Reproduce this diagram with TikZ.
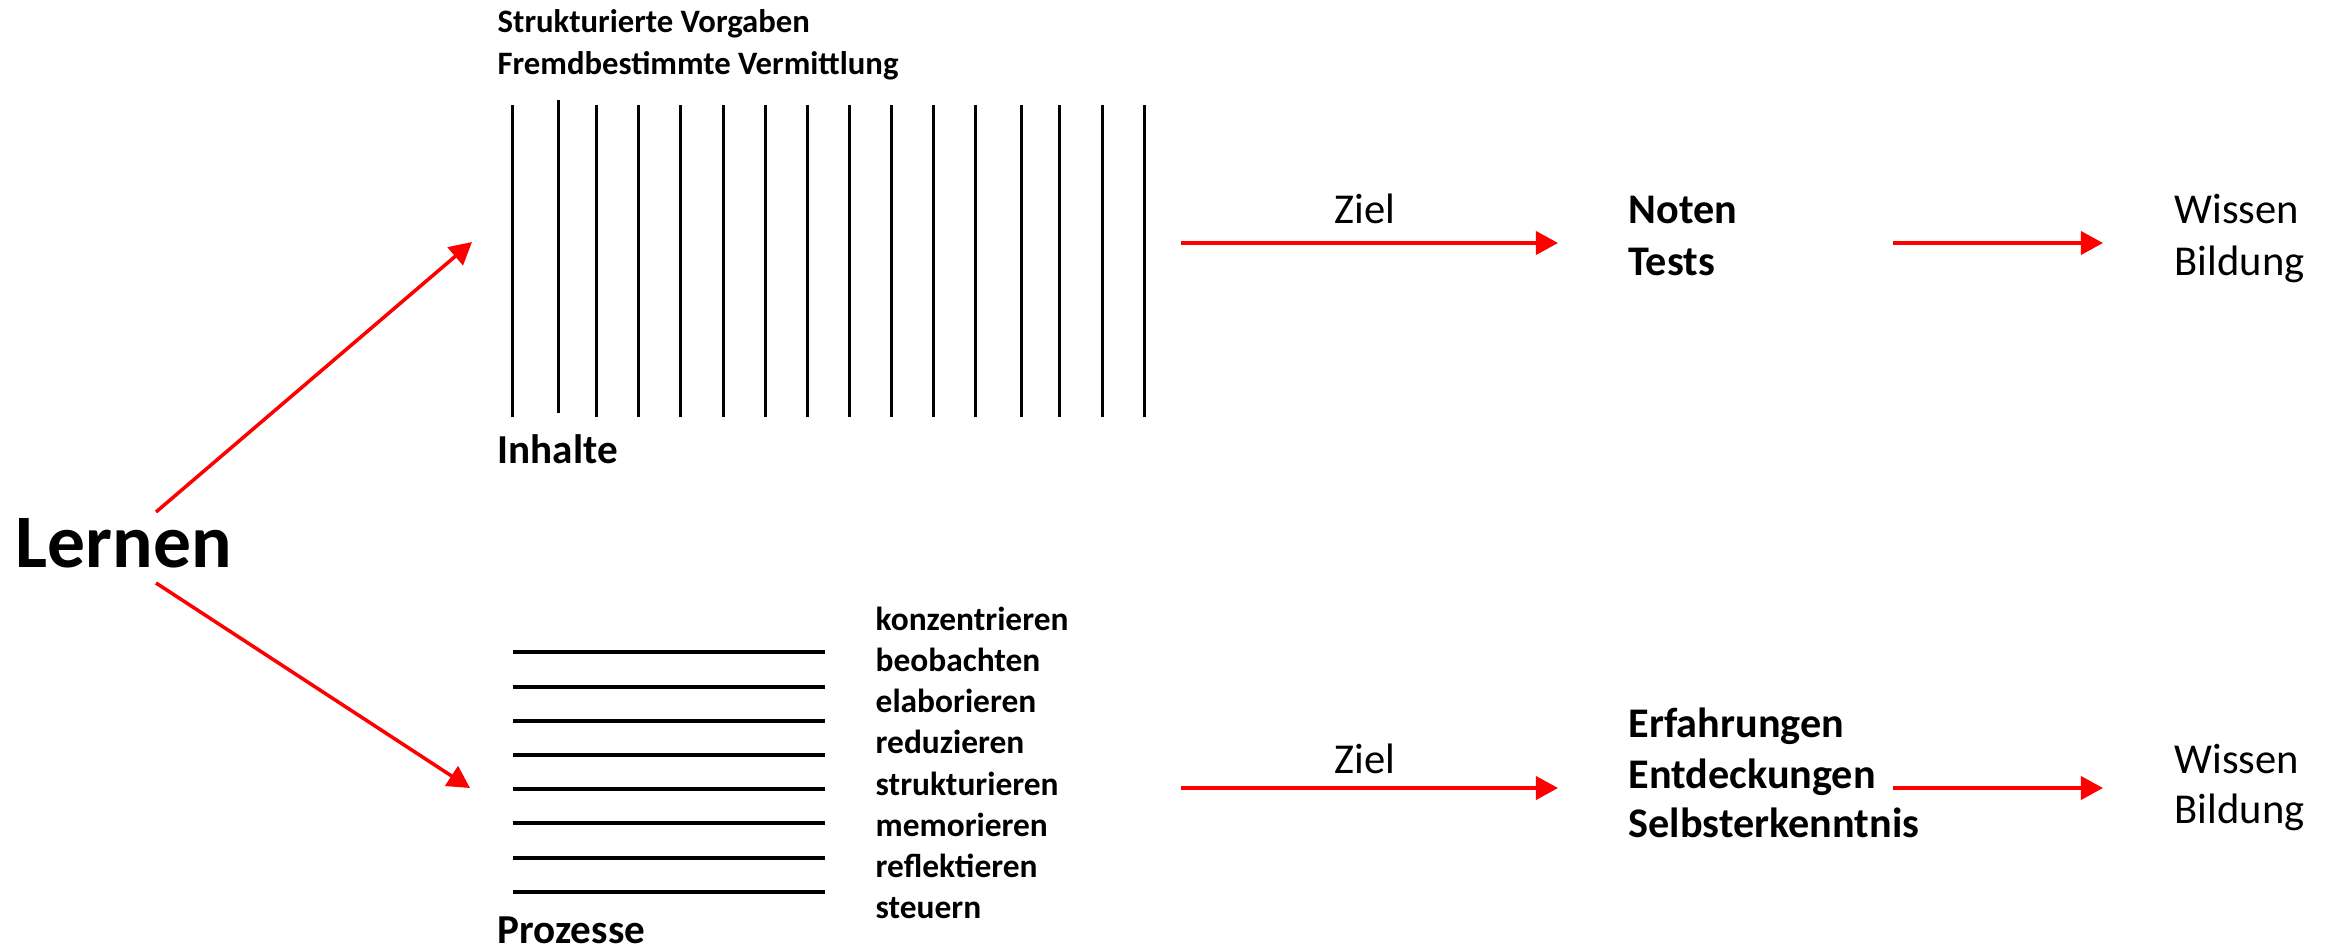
\documentclass[tikz,border=0pt]{standalone}
\usepackage{fontspec}
\setmainfont{Carlito}
\usetikzlibrary{arrows.meta}
\begin{document}
\begin{tikzpicture}[x=0.01cm,y=-0.01cm,
  txt/.style={anchor=base west, inner sep=0pt},
  title/.style={txt, font=\bfseries\fontsize{21.5}{24}\selectfont},
  head/.style={txt, font=\bfseries\fontsize{9.3}{11}\selectfont},
  verb/.style={txt, font=\bfseries\fontsize{9.5}{11}\selectfont},
  cat/.style={txt, font=\bfseries\fontsize{11.7}{14}\selectfont},
  goal/.style={txt, font=\bfseries\fontsize{12}{14}\selectfont},
  plain/.style={txt, font=\fontsize{12.1}{14}\selectfont},
  redarrow/.style={draw=red, line width=1pt, -{Triangle[length=6.3pt,width=6.6pt]}},
  vbar/.style={line width=0.85pt},
  hbar/.style={line width=1pt}]

\useasboundingbox (0,0) rectangle (2325,949);

% central term
\node[title] (lernen) at (15,567) {Lernen};

% upper branch: content
\node[head] (vorgaben) at (497,33) {Strukturierte Vorgaben};
\node[head] (vermittlung) at (497,75) {Fremdbestimmte Vermittlung};
\foreach \x/\t/\b in {512/105/417, 558/100/413, 596/105/417, 638/105/417,
  680/105/417, 723/105/417, 765/105/417, 807/105/417, 849/105/417,
  891/105/417, 933/105/417, 975/105/417, 1021/105/417, 1059/105/417,
  1102/105/417, 1144/105/417}
  \draw[vbar] (\x,\t) -- (\x,\b);
\node[cat] (inhalte) at (497,463) {Inhalte};

% lower branch: processes
\foreach \y in {652, 687, 721, 755, 789, 823, 858, 892}
  \draw[hbar] (513,\y) -- (825,\y);
\node[cat] (prozesse) at (497,943) {Prozesse};
\node[verb] (v1) at (875,630) {konzentrieren};
\node[verb] (v2) at (875,671) {beobachten};
\node[verb] (v3) at (875,712) {elaborieren};
\node[verb] (v4) at (875,753) {reduzieren};
\node[verb] (v5) at (875,795) {strukturieren};
\node[verb] (v6) at (875,836) {memorieren};
\node[verb] (v7) at (875,877) {reflektieren};
\node[verb] (v8) at (875,918) {steuern};

% goals
\node[plain] (ziel1) at (1334,224) {Ziel};
\node[goal] (noten) at (1628,224) {Noten};
\node[goal] (tests) at (1628,276) {Tests};
\node[plain] (wissen1) at (2174,224) {Wissen};
\node[plain] (bildung1) at (2174,276) {Bildung};

\node[plain] (ziel2) at (1334,773) {Ziel};
\node[goal] (erfahrungen) at (1628,737) {Erfahrungen};
\node[goal] (entdeckungen) at (1628,788) {Entdeckungen};
\node[goal] (selbst) at (1628,837) {Selbsterkenntnis};
\node[plain] (wissen2) at (2174,773) {Wissen};
\node[plain] (bildung2) at (2174,823) {Bildung};

% arrow end points
\coordinate (lup) at (156,512);
\coordinate (ldown) at (156,583);
\coordinate (inhaltin) at (472,242);
\coordinate (prozessin) at (470,788);
\coordinate (ua) at (1181,243);
\coordinate (ub) at (1558,243);
\coordinate (uc) at (1893,243);
\coordinate (ud) at (2103,243);
\coordinate (la) at (1181,788);
\coordinate (lb) at (1558,788);
\coordinate (lc) at (1893,788);
\coordinate (ld) at (2103,788);

\draw[redarrow] (lup) -- (inhaltin);
\draw[redarrow] (ldown) -- (prozessin);
\draw[redarrow] (ua) -- (ub);
\draw[redarrow] (uc) -- (ud);
\draw[redarrow] (la) -- (lb);
\draw[redarrow] (lc) -- (ld);
\end{tikzpicture}
\end{document}
